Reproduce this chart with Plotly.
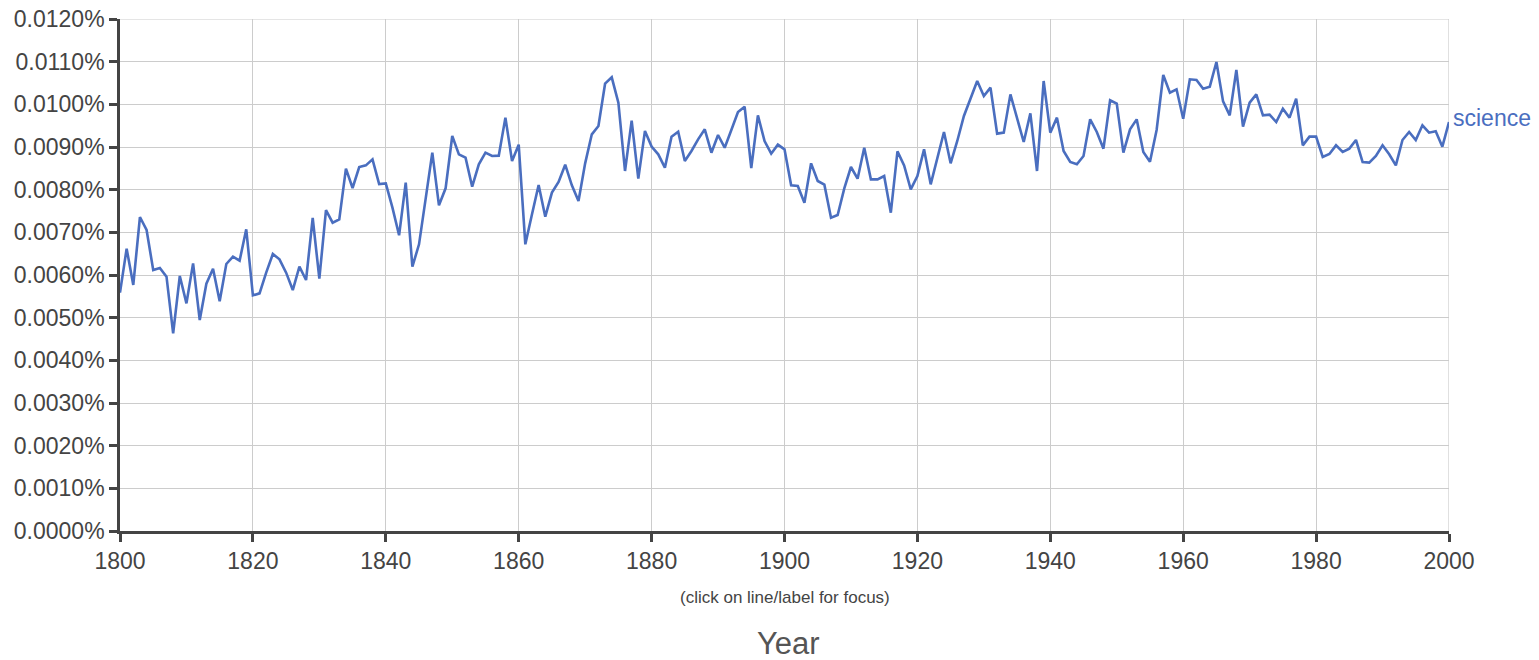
import plotly.graph_objects as go

years = list(range(1800, 2001))
science = [
    0.005586, 0.006617, 0.005766, 0.007359, 0.007055, 0.006117, 0.006164, 0.005961, 0.004633, 0.005977,
    0.005336, 0.006273, 0.004945, 0.005797, 0.006148, 0.005383, 0.006258, 0.006430, 0.006336, 0.007070,
    0.005523, 0.005570, 0.006055, 0.006492, 0.006367, 0.006055, 0.005648, 0.006195, 0.005883, 0.007336,
    0.005914, 0.007523, 0.007227, 0.007305, 0.008492, 0.008039, 0.008531, 0.008570, 0.008711, 0.008133,
    0.008148, 0.007578, 0.006930, 0.008164, 0.006195, 0.006719, 0.007789, 0.008867, 0.007633, 0.008031,
    0.009258, 0.008828, 0.008750, 0.008070, 0.008594, 0.008867, 0.008789, 0.008797, 0.009688, 0.008672,
    0.009055, 0.006719, 0.007422, 0.008109, 0.007367, 0.007930, 0.008180, 0.008586, 0.008102, 0.007734,
    0.008617, 0.009297, 0.009492, 0.010484, 0.010633, 0.010039, 0.008438, 0.009617, 0.008258, 0.009375,
    0.009010, 0.008828, 0.008516, 0.009242, 0.009359, 0.008672, 0.008906, 0.009180, 0.009414, 0.008867,
    0.009281, 0.008984, 0.009398, 0.009820, 0.009945, 0.008508, 0.009742, 0.009141, 0.008844, 0.009055,
    0.008945, 0.008102, 0.008086, 0.007695, 0.008617, 0.008203, 0.008117, 0.007344, 0.007406, 0.008031,
    0.008531, 0.008258, 0.008984, 0.008242, 0.008242, 0.008320, 0.007461, 0.008898, 0.008570, 0.008008,
    0.008320, 0.008945, 0.008125, 0.008750, 0.009352, 0.008617, 0.009141, 0.009727, 0.010156, 0.010547,
    0.010195, 0.010391, 0.009313, 0.009336, 0.010234, 0.009664, 0.009117, 0.009789, 0.008438, 0.010547,
    0.009336, 0.009688, 0.008906, 0.008648, 0.008594, 0.008789, 0.009648, 0.009352, 0.008961, 0.010094,
    0.010016, 0.008867, 0.009414, 0.009648, 0.008883, 0.008656, 0.009398, 0.010688, 0.010273, 0.010352,
    0.009664, 0.010586, 0.010570, 0.010367, 0.010414, 0.010992, 0.010070, 0.009742, 0.010805, 0.009477,
    0.010039, 0.010234, 0.009742, 0.009758, 0.009586, 0.009898, 0.009688, 0.010133, 0.009039, 0.009242,
    0.009242, 0.008766, 0.008836, 0.009039, 0.008883, 0.008961, 0.009164, 0.008648, 0.008633, 0.008789,
    0.009039, 0.008828, 0.008570, 0.009164, 0.009352, 0.009164, 0.009508, 0.009336, 0.009367, 0.009008,
    0.009586,
]
series_name = "science"
x_ticks = list(range(1800, 2001, 20))
y_ticks = [i / 1000 for i in range(0, 13)]
y_tick_labels = [f"{v:.4f}%" for v in y_ticks]

LINE = "#4a6ebf"
TXT = "#444444"
AX = "#444444"
GRID = "#cccccc"
FONT = "Liberation Sans, Arial, sans-serif"

fig = go.Figure()
fig.add_trace(go.Scatter(x=years, y=science, mode="lines", name=series_name,
                         line=dict(color=LINE, width=2.6), hoverinfo="x+y"))

# edge gridlines (top and right) that plotly omits at the range ends
fig.add_shape(type="line", xref="paper", yref="y", x0=0, x1=1, y0=y_ticks[-1], y1=y_ticks[-1],
              line=dict(color=GRID, width=1.2), layer="below")
fig.add_shape(type="line", xref="x", yref="paper", x0=x_ticks[-1], x1=x_ticks[-1], y0=0, y1=1,
              line=dict(color=GRID, width=1.2), layer="below")

# page body has an 8px margin, so the figure is 8px smaller and margins offset
fig.update_layout(
    width=1531, height=652,
    margin=dict(l=112, r=90, t=11, b=129, autoexpand=False),
    paper_bgcolor="white", plot_bgcolor="white",
    showlegend=False,
    font=dict(family=FONT, color=TXT, size=23),
    xaxis=dict(range=[1800, 2000], tickvals=x_ticks, showgrid=True, gridcolor=GRID,
               gridwidth=1.2, showline=True, linecolor=AX, linewidth=2.6,
               ticks="outside", ticklen=8, tickwidth=2.5, tickcolor=AX, automargin=False,
               ticklabeloverflow="allow",
               tickfont=dict(size=23, color=TXT), zeroline=False),
    yaxis=dict(range=[0, 0.012], tickvals=y_ticks, ticktext=y_tick_labels,
               showgrid=True, gridcolor=GRID, gridwidth=1.2, showline=True,
               linecolor=AX, linewidth=2.6, ticks="outside", ticklen=8, tickwidth=2.5,
               tickcolor=AX, automargin=False, ticklabeloverflow="allow",
               tickfont=dict(size=23, color=TXT), zeroline=False),
    annotations=[
        dict(x=years[-1], y=science[-1], xref="x", yref="y", text=series_name,
             showarrow=False, xanchor="left", yanchor="middle", xshift=2, yshift=4,
             font=dict(size=23, color=LINE, family=FONT)),
        dict(x=0.5, y=-0.129, xref="paper", yref="paper", text="(click on line/label for focus)",
             showarrow=False, xanchor="center", yanchor="middle",
             font=dict(size=17, color=TXT, family=FONT)),
        dict(x=0.503, y=-0.219, xref="paper", yref="paper", text="Year",
             showarrow=False, xanchor="center", yanchor="middle",
             font=dict(size=31, color="#555555", family=FONT)),
    ],
)

fig.write_html("out.html")
